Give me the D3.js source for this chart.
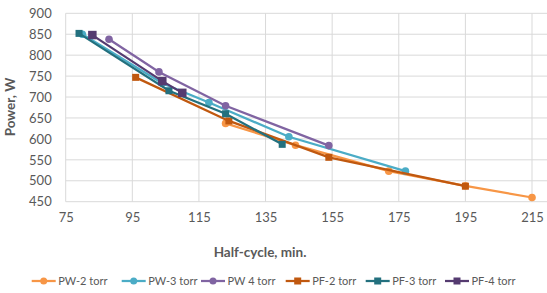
<!DOCTYPE html>
<html><head><meta charset="utf-8">
<script src="https://cdn.jsdelivr.net/npm/d3@7"></script>
<style>body{margin:0;background:#fff}svg{display:block}text{font-family:Lato,"Open Sans",sans-serif;fill:#595959}</style>
</head><body>
<svg id="c" width="547" height="293"></svg>
<script>
const xTicks = [75, 95, 115, 135, 155, 175, 195, 215];
const yTicks = [450, 500, 550, 600, 650, 700, 750, 800, 850, 900];
const seriesNames = ["PW-2 torr", "PW-3 torr", "PW 4 torr", "PF-2 torr", "PF-3 torr", "PF-4 torr"];
const pw2 = [[123, 637], [144, 585], [172, 523], [195, 488], [215, 460]];
const pw3 = [[80, 850], [104, 733], [118, 687], [142, 605], [177, 523]];
const pw4 = [[88, 838], [103, 760], [123, 679], [154, 584]];
const pf2 = [[96, 747], [124, 643], [154, 556], [195, 487]];
const pf3 = [[79, 852], [106, 715], [123, 660], [140, 587]];
const pf4 = [[83, 848], [104, 738], [110, 710]];

const colors = ["#F79646", "#4BACC6", "#8064A2", "#C0580F", "#23707E", "#553B70"];
const shapes = ["circle", "circle", "circle", "square", "square", "square"];
const allData = [pw2, pw3, pw4, pf2, pf3, pf4];

const svg = d3.select("#c");
const x = d3.scaleLinear().domain([75, 219.5]).range([65.7, 547]);
const y = d3.scaleLinear().domain([450, 900]).range([201.7, 13.3]);

// grid
svg.append("g").selectAll("line").data(yTicks).join("line")
  .attr("x1", x(75)).attr("x2", 547).attr("y1", d => y(d)).attr("y2", d => y(d))
  .attr("stroke", "#D9D9D9").attr("stroke-width", 1);
svg.append("g").selectAll("line").data(xTicks).join("line")
  .attr("x1", d => x(d)).attr("x2", d => x(d)).attr("y1", y(900)).attr("y2", y(450))
  .attr("stroke", "#D9D9D9").attr("stroke-width", 1);

// axes labels via d3 axes
const xAxis = svg.append("g").attr("transform", `translate(0,${y(450)})`)
  .call(d3.axisBottom(x).tickValues(xTicks).tickSize(0).tickPadding(11));
xAxis.select(".domain").remove();
xAxis.selectAll("text").attr("font-size", 13).style("font-family", "Lato,sans-serif").attr("fill", "#595959");
const yAxis = svg.append("g").attr("transform", `translate(${x(75)},0)`)
  .call(d3.axisLeft(y).tickValues(yTicks).tickSize(0).tickPadding(14));
yAxis.select(".domain").remove();
yAxis.selectAll("text").attr("font-size", 13).style("font-family", "Lato,sans-serif").attr("fill", "#595959");

// titles
svg.append("text").attr("x", 260).attr("y", 257).attr("text-anchor", "middle")
  .attr("font-size", 13.5).attr("font-weight", "bold").text("Half-cycle, min.");
svg.append("text").attr("transform", `translate(15,107) rotate(-90)`).attr("text-anchor", "middle")
  .attr("font-size", 13.5).attr("font-weight", "bold").text("Power, W");

// series
const line = d3.line().x(d => x(d[0])).y(d => y(d[1]));
allData.forEach((data, i) => {
  const g = svg.append("g");
  g.append("path").attr("d", line(data)).attr("fill", "none")
    .attr("stroke", colors[i]).attr("stroke-width", 2.25);
  if (shapes[i] === "circle") {
    g.selectAll("circle").data(data).join("circle")
      .attr("cx", d => x(d[0])).attr("cy", d => y(d[1])).attr("r", 3.8).attr("fill", colors[i]);
  } else {
    const s = i === 5 ? 8.5 : 7;
    g.selectAll("rect").data(data).join("rect")
      .attr("x", d => x(d[0]) - s / 2).attr("y", d => y(d[1]) - s / 2)
      .attr("width", s).attr("height", s).attr("fill", colors[i]);
  }
});

// legend
const legX = [31.7, 121.7, 201, 285.7, 365.7, 445];
const leg = svg.append("g");
seriesNames.forEach((n, i) => {
  const g = leg.append("g").attr("transform", `translate(${legX[i]},281)`);
  g.append("line").attr("x1", 0).attr("x2", 24).attr("stroke", colors[i]).attr("stroke-width", 2.25);
  if (shapes[i] === "circle") g.append("circle").attr("cx", 12).attr("r", 3.5).attr("fill", colors[i]);
  else g.append("rect").attr("x", 8.5).attr("y", -3.5).attr("width", 7).attr("height", 7).attr("fill", colors[i]);
  g.append("text").attr("x", 26.5).attr("y", 4).attr("font-size", 11).text(n);
});
</script>
</body></html>
